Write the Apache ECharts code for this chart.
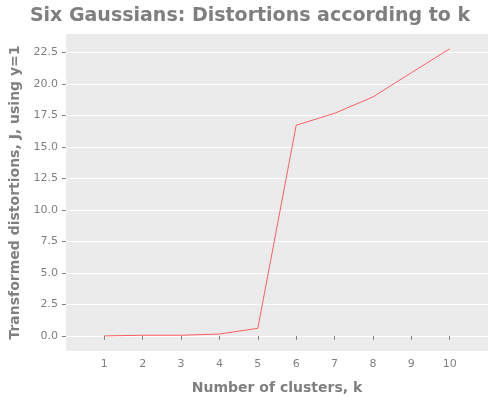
<!DOCTYPE html><html><head><meta charset="utf-8"><script src="https://cdn.jsdelivr.net/npm/echarts@6/dist/echarts.min.js"></script></head><body style="margin:0"><div id="c" style="width:500px;height:400px"></div><script>
const ks=[1,2,3,4,5,6,7,8,9,10];
const distortions=[0,0.05,0.05,0.15,0.6,16.73,17.68,18.98,20.9,22.8];
const yTicks=[0,2.5,5,7.5,10,12.5,15,17.5,20,22.5];
const c=echarts.init(document.getElementById('c'));
const g='#7f7f7f';
c.setOption({animation:false,
title:{text:'Six Gaussians: Distortions according to k',left:'center',top:2,textStyle:{color:g,fontSize:19,fontWeight:'bold',fontFamily:'DejaVu Sans'}},
grid:{left:65,right:12,top:34,bottom:38,backgroundColor:'#EBEBEB',show:true,borderWidth:0},
xAxis:{type:'value',min:0,max:11,interval:1,name:'Number of clusters, k',nameLocation:'middle',nameGap:30,
nameTextStyle:{color:g,fontSize:14,fontWeight:'bold',fontFamily:'DejaVu Sans'},
axisLine:{show:false},axisTick:{show:true,lineStyle:{color:g},length:4,customValues:ks},
axisLabel:{color:g,fontSize:11,fontFamily:'DejaVu Sans',customValues:ks},splitLine:{show:false}},
yAxis:{type:'value',min:-1.2,max:23.98,name:'Transformed distortions, J, using y=1',nameLocation:'middle',nameGap:44,
nameTextStyle:{color:g,fontSize:14,fontWeight:'bold',fontFamily:'DejaVu Sans'},
axisLine:{show:false},axisTick:{show:true,lineStyle:{color:g},length:4,customValues:yTicks},
axisLabel:{color:g,fontSize:11,fontFamily:'DejaVu Sans',customValues:yTicks,formatter:v=>v.toFixed(1)},
splitLine:{show:true,lineStyle:{color:'#fff',width:1.2}}},
series:[{type:'line',data:ks.map((k,i)=>[k,distortions[i]]),showSymbol:false,lineStyle:{color:'#FF6060',width:1}}]
});
</script></body></html>
